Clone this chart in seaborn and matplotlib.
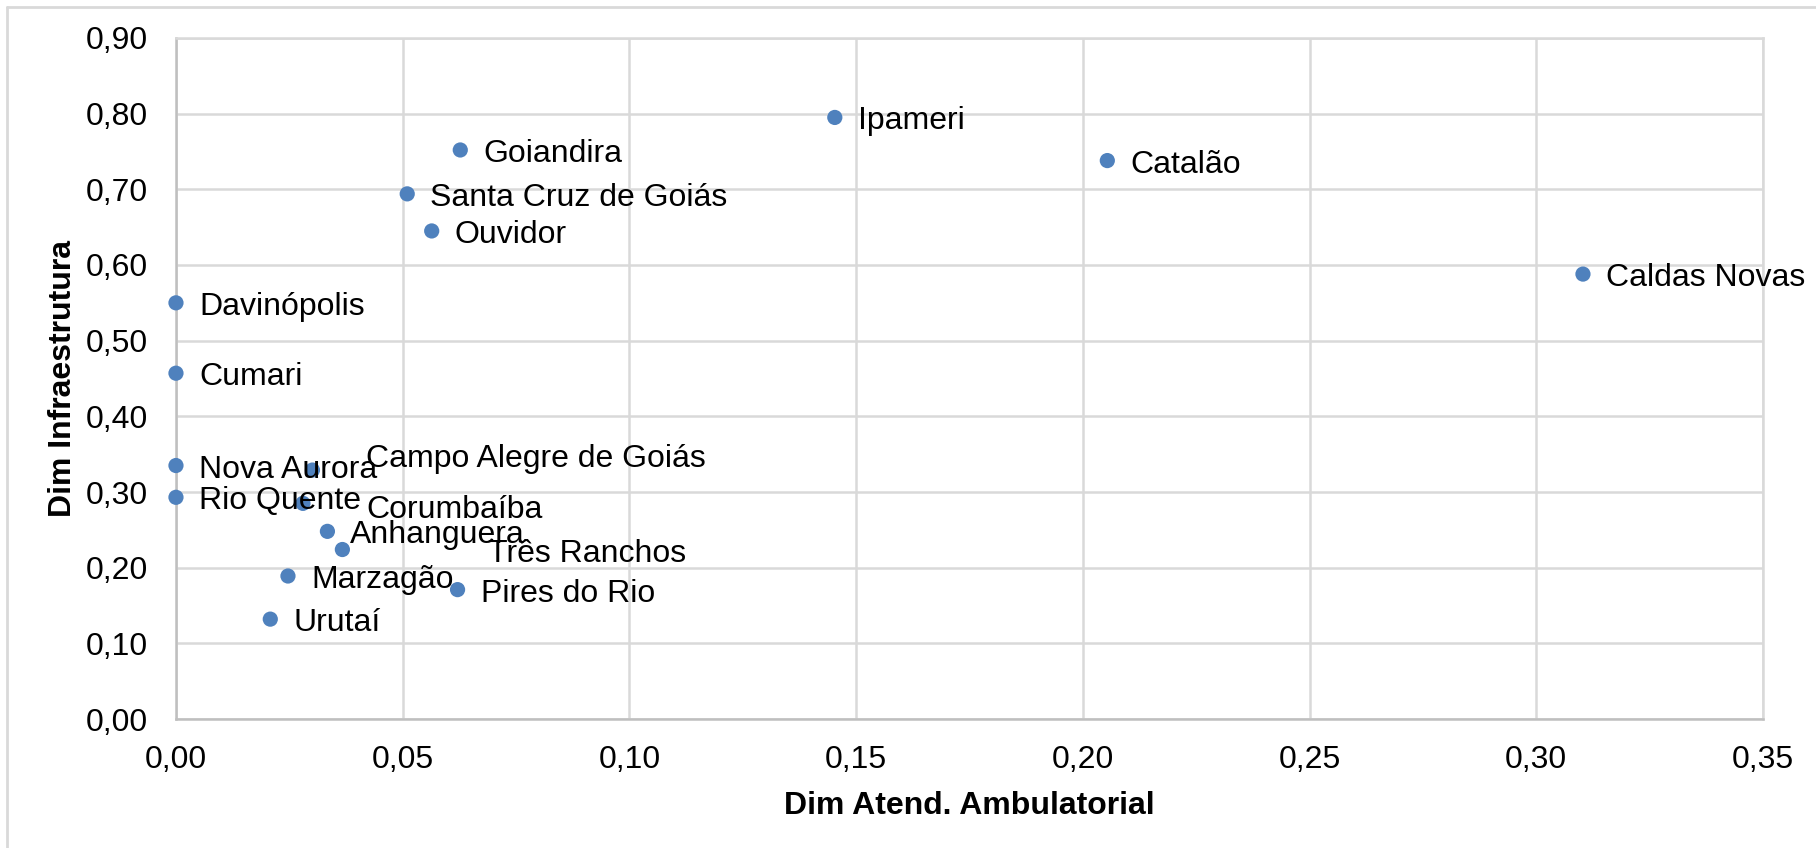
import seaborn as sns
import matplotlib.pyplot as plt
import pandas as pd
from matplotlib.ticker import FuncFormatter, MultipleLocator
from matplotlib.lines import Line2D

municipios = ['Ipameri', 'Catalão', 'Caldas Novas', 'Goiandira', 'Santa Cruz de Goiás',
              'Ouvidor', 'Davinópolis', 'Cumari', 'Nova Aurora', 'Rio Quente',
              'Campo Alegre de Goiás', 'Corumbaíba', 'Anhanguera', 'Três Ranchos',
              'Marzagão', 'Pires do Rio', 'Urutaí']
atend_ambulatorial = [0.1453, 0.2054, 0.3103, 0.0627, 0.0510,
                      0.0564, 0.0, 0.0, 0.0, 0.0,
                      0.0301, 0.0280, 0.0334, 0.0367,
                      0.0247, 0.0621, 0.0208]
infraestrutura = [0.795, 0.738, 0.588, 0.752, 0.694,
                  0.645, 0.550, 0.457, 0.335, 0.293,
                  0.329, 0.285, 0.248, 0.224,
                  0.189, 0.171, 0.132]

# labels moved by hand in the original chart (pixel offsets)
label_offsets = {'Campo Alegre de Goiás': (54, 11), 'Corumbaíba': (63, -7),
                 'Três Ranchos': (146, -4)}

df = pd.DataFrame({'municipio': municipios, 'x': atend_ambulatorial, 'y': infraestrutura})

sns.set_style('white')
plt.rcParams['font.family'] = ['Liberation Sans', 'DejaVu Sans']
fs = 23

fig = plt.figure(figsize=(18.16, 8.48), dpi=100)
ax = fig.add_axes([0.0969, 0.1521, 0.8739, 0.8031])

sns.scatterplot(data=df, x='x', y='y', ax=ax, color='#4F81BD', s=120,
                edgecolor='none', zorder=3, clip_on=False)

for _, row in df.iterrows():
    dx, dy = label_offsets.get(row['municipio'], (23, -4))
    ax.annotate(row['municipio'], (row['x'], row['y']), xytext=(dx, dy),
                textcoords='offset pixels', ha='left', va='center',
                fontsize=fs, color='black', annotation_clip=False, zorder=4)

ax.set_xlim(0, 0.35)
ax.set_ylim(0, 0.90)
ax.xaxis.set_major_locator(MultipleLocator(0.05))
ax.yaxis.set_major_locator(MultipleLocator(0.10))
fmt = FuncFormatter(lambda v, p: f'{v:.2f}'.replace('.', ','))
ax.xaxis.set_major_formatter(fmt)
ax.yaxis.set_major_formatter(fmt)

ax.grid(True, color='#D9D9D9', linewidth=1.8)
ax.set_axisbelow(True)
for side in ['top', 'right']:
    ax.spines[side].set_color('#D9D9D9')
    ax.spines[side].set_linewidth(1.8)
for side in ['left', 'bottom']:
    ax.spines[side].set_color('#BFBFBF')
    ax.spines[side].set_linewidth(1.8)

ax.tick_params(axis='both', length=0, labelsize=fs, colors='black')
ax.tick_params(axis='y', pad=20)
ax.tick_params(axis='x', pad=18.5)

ax.set_xlabel('Dim Atend. Ambulatorial', fontsize=fs, fontweight='bold',
              color='black', labelpad=12)
ax.set_ylabel('Dim Infraestrutura', fontsize=fs, fontweight='bold',
              color='black', labelpad=6)

# chart area border (only top and left visible in the crop)
fig.add_artist(Line2D([0.004, 0.004], [0.0, 0.992], transform=fig.transFigure,
                      color='#D9D9D9', linewidth=2))
fig.add_artist(Line2D([0.004, 1.0], [0.992, 0.992], transform=fig.transFigure,
                      color='#D9D9D9', linewidth=2))

fig.savefig('out.png', dpi=100, facecolor='white')
